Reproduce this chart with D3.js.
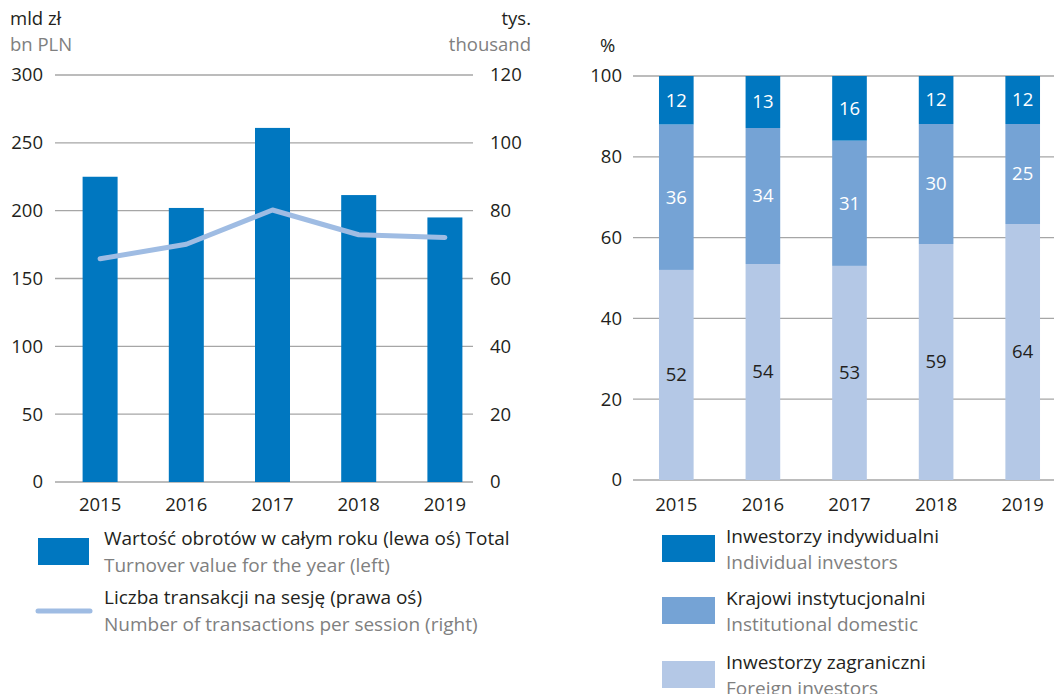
<!DOCTYPE html>
<html><head><meta charset="utf-8">
<script src="https://cdn.jsdelivr.net/npm/d3@7"></script>
<style>
body{margin:0;background:#fff;}
svg{display:block;font-family:"Open Sans",sans-serif;}
</style></head>
<body><svg id="c" width="1054" height="694"></svg>
<script>
const years = ["2015","2016","2017","2018","2019"];
const turnover = [225, 202, 261, 211.5, 195];
const transactions = [65.8, 70.1, 80.2, 72.9, 72.1];
const leftTicks = [0,50,100,150,200,250,300];
const rightTicks = [0,20,40,60,80,100,120];
const individual = [12, 13, 16, 12, 12];
const institutional = [36, 34, 31, 30, 25];
const foreign = [52, 54, 53, 59, 64];
const pctTicks = [0,20,40,60,80,100];

const C_DARK = "#0077c0", C_MID = "#75a3d5", C_LIGHT = "#b4c8e6", C_LINE = "#9fbce3";
const GRID = "#a6a6a6", TXT = "#231f20", GRAYTXT = "#808080";
const FS = 18.5;
const LFS = 19;

const svg = d3.select("#c");

// ---------- Left chart ----------
const yL = d3.scaleLinear().domain([0,300]).range([482,75]);
const yR = d3.scaleLinear().domain([0,120]).range([482,75]);
const xL = d3.scaleBand().domain(years).range([57,488]).paddingInner(0.594).paddingOuter(0.297);

const gl = svg.append("g");
gl.selectAll("line.grid").data(leftTicks).join("line")
  .attr("x1",55).attr("x2",473).attr("y1",d=>yL(d)).attr("y2",d=>yL(d))
  .attr("stroke",GRID).attr("stroke-width",1.3);
gl.selectAll("text.yl").data(leftTicks).join("text")
  .attr("x",43).attr("y",d=>yL(d)).attr("dy","0.35em").attr("text-anchor","end")
  .attr("font-size",FS).attr("fill",TXT).text(d=>d);
gl.selectAll("text.yr").data(rightTicks).join("text")
  .attr("x",490).attr("y",d=>yR(d)).attr("dy","0.35em").attr("text-anchor","start")
  .attr("font-size",FS).attr("fill",TXT).text(d=>d);
gl.selectAll("rect.bar").data(turnover).join("rect")
  .attr("x",(d,i)=>xL(years[i])).attr("width",xL.bandwidth())
  .attr("y",d=>yL(d)).attr("height",d=>yL(0)-yL(d)).attr("fill",C_DARK);
gl.append("path").datum(transactions)
  .attr("d",d3.line().x((d,i)=>xL(years[i])+xL.bandwidth()/2).y(d=>yR(d)))
  .attr("fill","none").attr("stroke",C_LINE).attr("stroke-width",5)
  .attr("stroke-linecap","round").attr("stroke-linejoin","round");
gl.selectAll("text.xl").data(years).join("text")
  .attr("x",d=>xL(d)+xL.bandwidth()/2).attr("y",511).attr("text-anchor","middle")
  .attr("font-size",FS).attr("fill",TXT).text(d=>d);
gl.append("text").attr("x",10).attr("y",25).attr("font-size",FS).attr("fill",TXT).text("mld zł");
gl.append("text").attr("x",10).attr("y",51).attr("font-size",FS).attr("fill",GRAYTXT).text("bn PLN");
gl.append("text").attr("x",531).attr("y",25).attr("text-anchor","end").attr("font-size",FS).attr("fill",TXT).text("tys.");
gl.append("text").attr("x",531).attr("y",51).attr("text-anchor","end").attr("font-size",FS).attr("fill",GRAYTXT).text("thousand");

// left legend
gl.append("rect").attr("x",38).attr("y",538).attr("width",51).attr("height",27).attr("fill",C_DARK);
gl.append("line").attr("x1",38).attr("x2",90).attr("y1",611).attr("y2",611)
  .attr("stroke",C_LINE).attr("stroke-width",5).attr("stroke-linecap","round");
const legL = [
  ["Wartość obrotów w całym roku (lewa oś) Total", TXT, 545],
  ["Turnover value for the year (left)", GRAYTXT, 572],
  ["Liczba transakcji na sesję (prawa oś)", TXT, 604],
  ["Number of transactions per session (right)", GRAYTXT, 631]
];
gl.selectAll("text.leg").data(legL).join("text")
  .attr("x",104).attr("y",d=>d[2]).attr("font-size",LFS).attr("fill",d=>d[1]).text(d=>d[0]);

// ---------- Right chart ----------
const yP = d3.scaleLinear().domain([0,1]).range([480,76]);
const xP = d3.scaleBand().domain(years).range([633,1066]).paddingInner(0.6).paddingOuter(0.3);
const gr = svg.append("g");
gr.selectAll("line.grid").data(pctTicks).join("line")
  .attr("x1",633).attr("x2",1054).attr("y1",d=>yP(d/100)).attr("y2",d=>yP(d/100))
  .attr("stroke",GRID).attr("stroke-width",1.3);
gr.selectAll("text.yl").data(pctTicks).join("text")
  .attr("x",622).attr("y",d=>yP(d/100)).attr("dy","0.35em").attr("text-anchor","end")
  .attr("font-size",FS).attr("fill",TXT).text(d=>d);
gr.append("text").attr("x",600).attr("y",52).attr("font-size",FS).attr("fill",TXT).text("%");

const rows = years.map((y,i)=>({year:y, foreign:foreign[i], institutional:institutional[i], individual:individual[i]}));
const keys = ["foreign","institutional","individual"];
const colors = {foreign:C_LIGHT, institutional:C_MID, individual:C_DARK};
const labelCol = {foreign:TXT, institutional:"#ffffff", individual:"#ffffff"};
const stack = d3.stack().keys(keys).offset(d3.stackOffsetExpand)(rows);
stack.forEach(layer=>{
  const k = layer.key;
  gr.selectAll("rect.s-"+k).data(layer).join("rect")
    .attr("x",d=>xP(d.data.year)).attr("width",xP.bandwidth())
    .attr("y",d=>yP(d[1])).attr("height",d=>yP(d[0])-yP(d[1])).attr("fill",colors[k]);
  gr.selectAll("text.l-"+k).data(layer).join("text")
    .attr("x",d=>xP(d.data.year)+xP.bandwidth()/2).attr("y",d=>(yP(d[0])+yP(d[1]))/2)
    .attr("dy","0.35em").attr("text-anchor","middle").attr("font-size",FS)
    .attr("fill",labelCol[k]).text(d=>d.data[k]);
});
gr.selectAll("text.xl").data(years).join("text")
  .attr("x",d=>xP(d)+xP.bandwidth()/2).attr("y",511).attr("text-anchor","middle")
  .attr("font-size",FS).attr("fill",TXT).text(d=>d);

const legR = [
  [C_DARK, "Inwestorzy indywidualni", "Individual investors", 535],
  [C_MID, "Krajowi instytucjonalni", "Institutional domestic", 597],
  [C_LIGHT, "Inwestorzy zagraniczni", "Foreign investors", 661]
];
legR.forEach(d=>{
  gr.append("rect").attr("x",662).attr("y",d[3]).attr("width",53).attr("height",27).attr("fill",d[0]);
  gr.append("text").attr("x",726).attr("y",d[3]+8).attr("font-size",LFS).attr("fill",TXT).text(d[1]);
  gr.append("text").attr("x",726).attr("y",d[3]+34).attr("font-size",LFS).attr("fill",GRAYTXT).text(d[2]);
});
</script></body></html>
